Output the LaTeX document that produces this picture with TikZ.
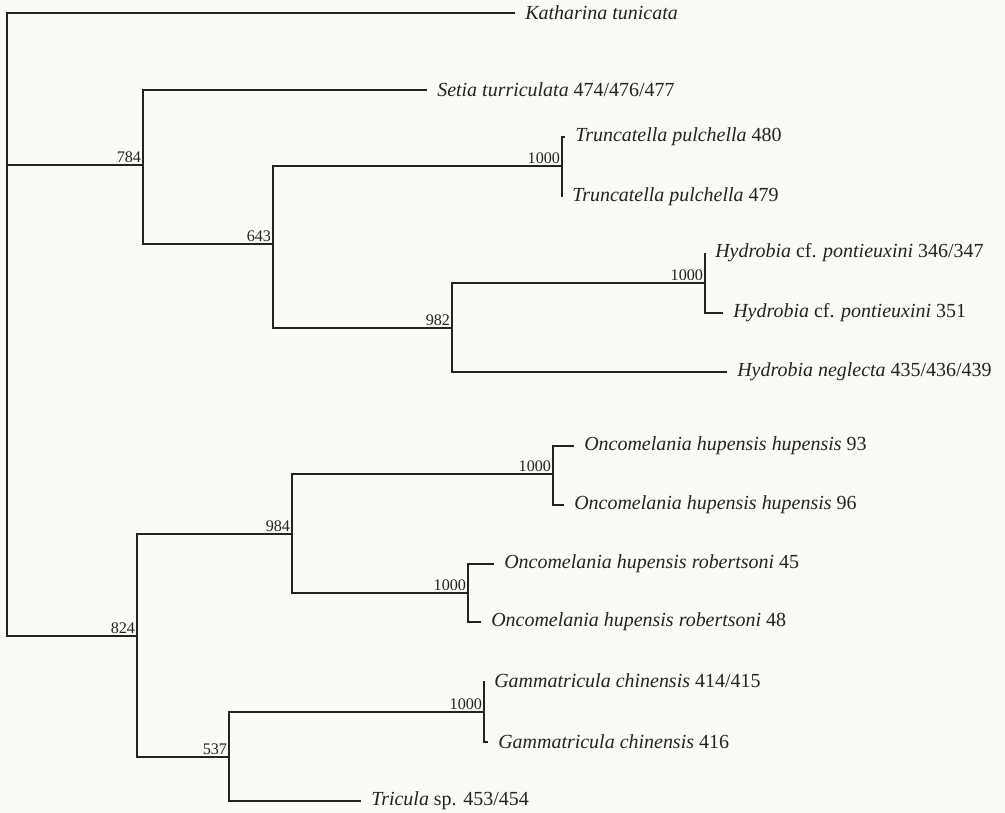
\documentclass[tikz,border=0pt]{standalone}
\usepackage{fontspec}
\setmainfont{Liberation Serif}
\definecolor{paper}{RGB}{249,251,246}
\definecolor{ink}{RGB}{35,35,35}
\begin{document}
\begin{tikzpicture}[
    x=0.025cm, y=-0.025cm,
    branch/.style={line width=1.3pt, draw=ink},
    taxon/.style={
      anchor=west, inner xsep=0.25cm, inner ysep=1pt,
      font=\fontsize{14.2}{17}\selectfont, text=ink
    },
    support/.style={
      anchor=south east, inner sep=1.2pt,
      font=\fontsize{11.5}{13}\selectfont, text=ink
    },
  ]
  \fill[paper] (0,0) rectangle (1005,813);
  \useasboundingbox (0,0) rectangle (1005,813);

  % --- internal nodes (x = depth, y = branch height) ---
  \coordinate (root) at (7,165);
  \coordinate (n784) at (143,165);
  \coordinate (n643) at (273,244);
  \coordinate (ntru) at (562,166);
  \coordinate (n982) at (452,328);
  \coordinate (nhyd) at (705,283);
  \coordinate (n824) at (137,636);
  \coordinate (n984) at (292,534);
  \coordinate (nonc) at (553,474);
  \coordinate (nrob) at (468,593);
  \coordinate (n537) at (229,757);
  \coordinate (ngam) at (484,712);

  % --- taxa ---
  \node[taxon] (kat)  at (515,13)  {\textit{Katharina tunicata}};
  \node[taxon] (set)  at (427,90)  {\textit{Setia turriculata} 474/476/477};
  \node[taxon] (tru1) at (565,137) {\textit{Truncatella pulchella} 480};
  \node[taxon] (tru2) at (562,197) {\textit{Truncatella pulchella} 479};
  \node[taxon] (hyd1) at (705,253) {\textit{Hydrobia} cf. \textit{pontieuxini} 346/347};
  \node[taxon] (hyd2) at (723,313) {\textit{Hydrobia} cf. \textit{pontieuxini} 351};
  \node[taxon] (hneg) at (727,372) {\textit{Hydrobia neglecta} 435/436/439};
  \node[taxon] (onc1) at (574,446) {\textit{Oncomelania hupensis hupensis} 93};
  \node[taxon] (onc2) at (564,505) {\textit{Oncomelania hupensis hupensis} 96};
  \node[taxon] (rob1) at (494,564) {\textit{Oncomelania hupensis robertsoni} 45};
  \node[taxon] (rob2) at (481,622) {\textit{Oncomelania hupensis robertsoni} 48};
  \node[taxon] (gam1) at (484,681) {\textit{Gammatricula chinensis} 414/415};
  \node[taxon] (gam2) at (488,742) {\textit{Gammatricula chinensis} 416};
  \node[taxon] (tric) at (361,801) {\textit{Tricula} sp. 453/454};

  % --- branches ---
  \foreach \a/\b in {root/kat, root/n784, root/n824,
                     n784/set, n784/n643, n643/ntru, n643/n982,
                     ntru/tru1, ntru/tru2, n982/nhyd, n982/hneg,
                     nhyd/hyd1, nhyd/hyd2,
                     n824/n984, n824/n537, n984/nonc, n984/nrob,
                     nonc/onc1, nonc/onc2, nrob/rob1, nrob/rob2,
                     n537/ngam, n537/tric, ngam/gam1, ngam/gam2} {
    \draw[branch] (\a) |- (\b);
  }

  % --- bootstrap support ---
  \foreach \n/\v in {n784/784, n643/643, ntru/1000, n982/982, nhyd/1000,
                     n824/824, n984/984, nonc/1000, nrob/1000,
                     n537/537, ngam/1000} {
    \node[support] (s\n) at (\n) {\v};
  }
\end{tikzpicture}
\end{document}
